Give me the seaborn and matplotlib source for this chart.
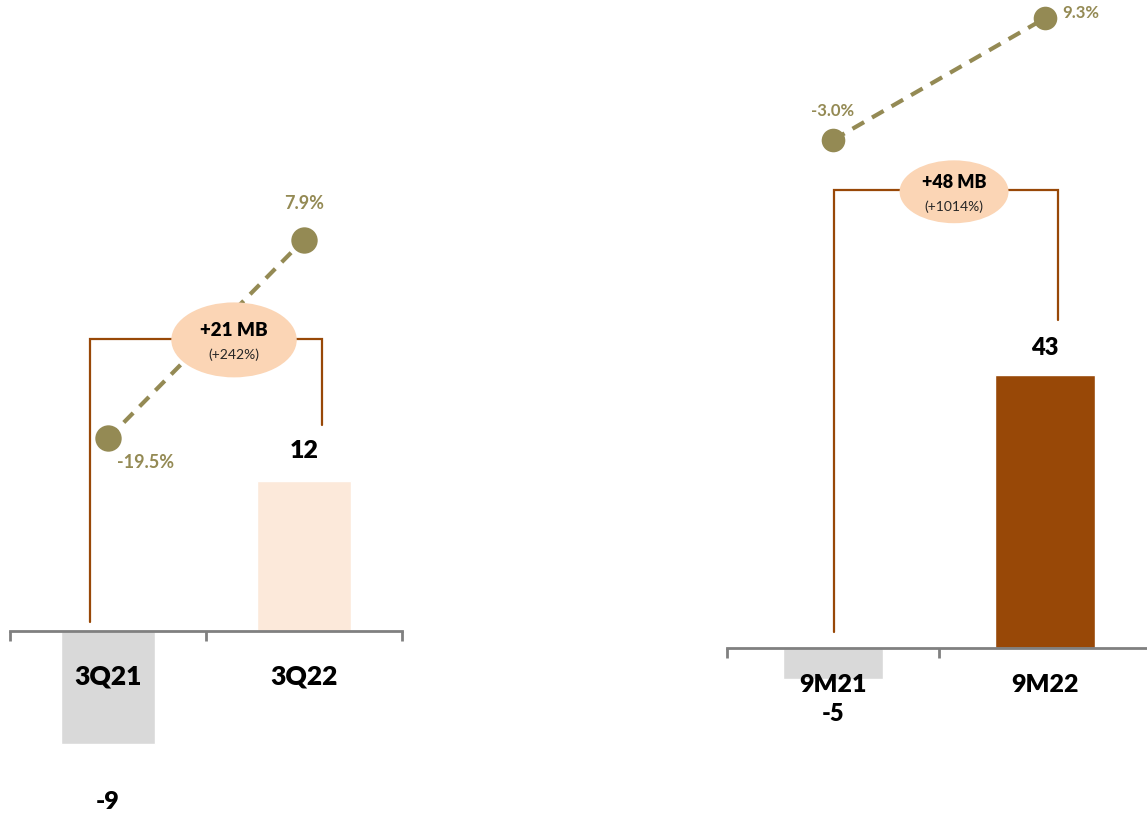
import matplotlib
matplotlib.use('Agg')
import matplotlib.pyplot as plt
import seaborn as sns
from matplotlib.patches import Ellipse

# 数据
q_cats = ['3Q21', '3Q22']
q_values = [-9, 12]
q_margins = [-19.5, 7.9]
q_change = '+21 MB'
q_change_pct = '(+242%)'

m_cats = ['9M21', '9M22']
m_values = [-5, 43]
m_margins = [-3.0, 9.3]
m_change = '+48 MB'
m_change_pct = '(+1014%)'

sns.set_theme(style='white')
plt.rcParams['font.family'] = ['Lato', 'DejaVu Sans']

GRAY = '#D9D9D9'
PEACH = '#FCE9DA'
BROWN = '#984807'
OLIVE = '#948A54'
OVAL = '#FBD5B5'
AXIS = '#808080'
WEIGHT = 'heavy'

fig = plt.figure(figsize=(11.47, 8.16), dpi=100)


def draw_panel(rect, cats, values, margins, colors, ylim, ylim2, width,
               tick_pad, tick_size, val_offsets, pct_offsets, pct_size, mk,
               bracket, oval, change, change_pct, change_sizes):
    ax = fig.add_axes(rect)
    sns.barplot(x=cats, y=values, hue=cats, palette=colors, width=width,
                legend=False, saturation=1, ax=ax, zorder=1)
    ax.set_axisbelow(False)
    ax.set_xlim(-0.5, 1.5)
    ax.set_ylim(*ylim)
    for s in ['top', 'left', 'right']:
        ax.spines[s].set_visible(False)
    ax.spines['bottom'].set_position(('data', 0))
    ax.spines['bottom'].set_color(AXIS)
    ax.spines['bottom'].set_linewidth(2)
    ax.spines['bottom'].set_zorder(3)
    ax.set_yticks([])
    ax.set_ylabel('')
    ax.set_xticks(range(len(cats)), cats, fontsize=tick_size,
                  fontweight=WEIGHT, color='black')
    ax.set_xticks([-0.5, 0.5, 1.5], minor=True)
    ax.tick_params(axis='x', which='minor', direction='out', length=7,
                   width=2, color=AXIS, bottom=True)
    ax.tick_params(axis='x', which='major', length=0, pad=tick_pad)
    ax.xaxis.set_zorder(4)

    # 数值标签
    for i, v in enumerate(values):
        off = val_offsets[i]
        ax.annotate(str(v), (i, v), xytext=(0, off), textcoords='offset points',
                    ha='center', va='center', fontsize=tick_size - 1,
                    fontweight=WEIGHT, color='black', zorder=6)

    # 括号
    bx0, bx1, btop, bl, br = bracket
    ax.plot([bx0, bx0, bx1, bx1], [bl, btop, btop, br], color=BROWN, lw=1.6,
            solid_joinstyle='miter', zorder=2)

    # 利润率折线
    ax2 = ax.twinx()
    sns.lineplot(x=list(range(len(cats))), y=margins, ax=ax2, color=OLIVE,
                 lw=3, linestyle=(0, (3.2, 2.2)), marker='o', markersize=mk,
                 markeredgewidth=0, zorder=3)
    ax2.set_ylim(*ylim2)
    ax2.set_yticks([])
    ax2.set_ylabel('')
    for s in ax2.spines.values():
        s.set_visible(False)
    for i, m in enumerate(margins):
        ax2.annotate(f'{m:.1f}%', (i, m), xytext=pct_offsets[i],
                     textcoords='offset points', ha='center', va='center',
                     fontsize=pct_size, fontweight='bold', color=OLIVE)

    # 椭圆标注
    ox, oy, ow, oh = oval
    ax2.add_patch(Ellipse((ox, oy), ow, oh, transform=ax.transData,
                          facecolor=OVAL, edgecolor='none', zorder=8))
    ax2.annotate(change, (ox, oy), xycoords=ax.transData, xytext=(0, 7),
                 textcoords='offset points', ha='center', va='center',
                 fontsize=change_sizes[0], fontweight=WEIGHT, color='black',
                 zorder=9)
    ax2.annotate(change_pct, (ox, oy), xycoords=ax.transData, xytext=(0, -11),
                 textcoords='offset points', ha='center', va='center',
                 fontsize=change_sizes[1], color='#262626', zorder=9)
    return ax, ax2


draw_panel([10 / 1147, 0, 392 / 1147, 1], q_cats, q_values, q_margins,
           [GRAY, PEACH], (-14.8, 50.5), (-71.5, 40.9), 0.475,
           tick_pad=24, tick_size=19, val_offsets=[-42, 22],
           pct_offsets=[(27, -17), (0, 26)], pct_size=13, mk=19,
           bracket=(-0.09, 1.09, 23.4, 0.7, 16.5),
           oval=(0.643, 23.3, 0.64, 6.0),
           change=q_change, change_pct=q_change_pct, change_sizes=(13.5, 10))

draw_panel([727 / 1147, 0, 424 / 1147, 1], m_cats, m_values, m_margins,
           [GRAY, BROWN], (-26.5, 102.0), (-71.3, 11.14), 0.47,
           tick_pad=19, tick_size=18, val_offsets=[-25, 19],
           pct_offsets=[(0, 21), (26, 4)], pct_size=12, mk=17,
           bracket=(0.005, 1.06, 72.1, 2.5, 51.6),
           oval=(0.571, 71.8, 0.514, 9.9),
           change=m_change, change_pct=m_change_pct, change_sizes=(13, 10))

fig.savefig('out.png', dpi=100, facecolor='white')
